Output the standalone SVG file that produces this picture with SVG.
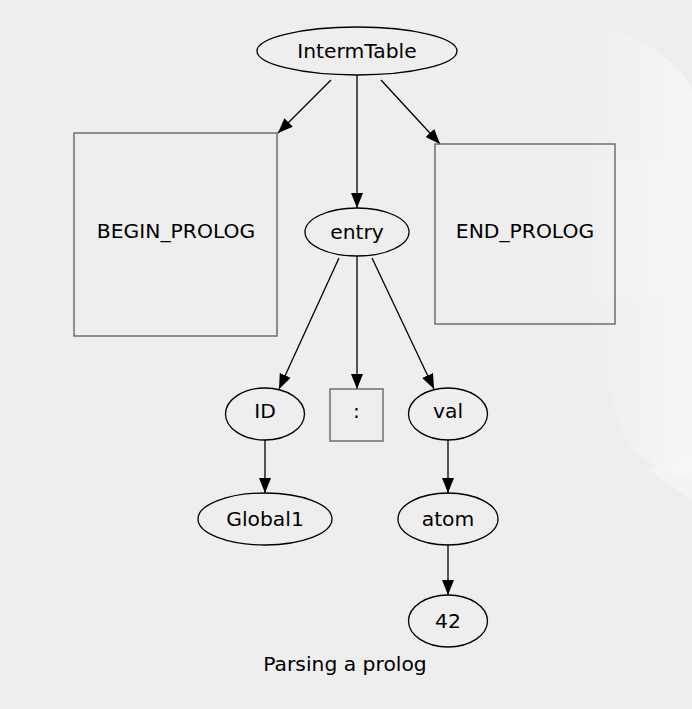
<svg xmlns="http://www.w3.org/2000/svg" width="692" height="709" viewBox="0 0 692 709">
<defs>
<style>
.n ellipse{fill:none;stroke:#000;stroke-width:1.3}
.n rect{fill:none;stroke:#666;stroke-width:1.4}
text{font-family:"DejaVu Sans","Liberation Sans",sans-serif;font-size:20.3px;fill:#000;text-anchor:middle}
#edges line{stroke:#000;stroke-width:1.3;marker-end:url(#ah)}
</style>
<marker id="ah" markerUnits="userSpaceOnUse" markerWidth="16" markerHeight="12" refX="15" refY="6" orient="auto">
<path d="M0,0 L15,6 L0,12 Z" fill="#000"/>
</marker>
<linearGradient id="bg" x1="0" y1="0" x2="1" y2="0">
<stop offset="0" stop-color="#ffffff" stop-opacity="0"/>
<stop offset="1" stop-color="#fffafa" stop-opacity="0.9"/>
</linearGradient>
</defs>
<rect width="692" height="709" fill="#eeeeee"/>
<g opacity="0.6">
<path d="M600,20 C640,40 680,60 692,90 L692,480 C660,470 640,460 625,440 C600,360 570,260 580,180 C585,120 590,60 600,20 Z" fill="url(#bg)"/>
<path d="M560,160 L692,160 L692,300 L560,300 Z" fill="url(#bg)" opacity="0.5"/>
<path d="M648,470 L692,450 L692,500 Z" fill="#ffffff" opacity="0.5"/>
</g>
<g id="edges">
<line x1="331" y1="80" x2="278" y2="133"/>
<line x1="357" y1="75" x2="357" y2="208"/>
<line x1="381" y1="80" x2="440" y2="144"/>
<line x1="339" y1="258" x2="279" y2="389"/>
<line x1="357" y1="256" x2="357" y2="389"/>
<line x1="372" y1="258" x2="434" y2="389"/>
<line x1="265" y1="440" x2="265" y2="493"/>
<line x1="448" y1="440" x2="448" y2="493"/>
<line x1="448" y1="545" x2="448" y2="595"/>
</g>
<g id="IntermTable" class="n"><ellipse cx="357" cy="51" rx="100" ry="24"/><text x="357" y="58">IntermTable</text></g>
<g id="BEGIN_PROLOG" class="n"><rect x="74" y="133" width="203" height="203"/><text x="176" y="238">BEGIN_PROLOG</text></g>
<g id="entry" class="n"><ellipse cx="357" cy="232" rx="52" ry="24"/><text x="357" y="239">entry</text></g>
<g id="END_PROLOG" class="n"><rect x="435" y="144" width="180" height="180"/><text x="525" y="238">END_PROLOG</text></g>
<g id="ID" class="n"><ellipse cx="265" cy="414" rx="39.5" ry="26"/><text x="265" y="418">ID</text></g>
<g id="colon" class="n"><rect x="330" y="389" width="53" height="52"/><text x="356.5" y="418">:</text></g>
<g id="val" class="n"><ellipse cx="448" cy="414" rx="39.5" ry="26"/><text x="448" y="418">val</text></g>
<g id="Global1" class="n"><ellipse cx="265" cy="519" rx="67" ry="26"/><text x="265" y="526">Global1</text></g>
<g id="atom" class="n"><ellipse cx="448" cy="519" rx="50" ry="26"/><text x="448" y="526">atom</text></g>
<g id="n42" class="n"><ellipse cx="448" cy="621" rx="39.5" ry="26"/><text x="448" y="628">42</text></g>
<text x="345" y="671">Parsing a prolog</text>
</svg>
